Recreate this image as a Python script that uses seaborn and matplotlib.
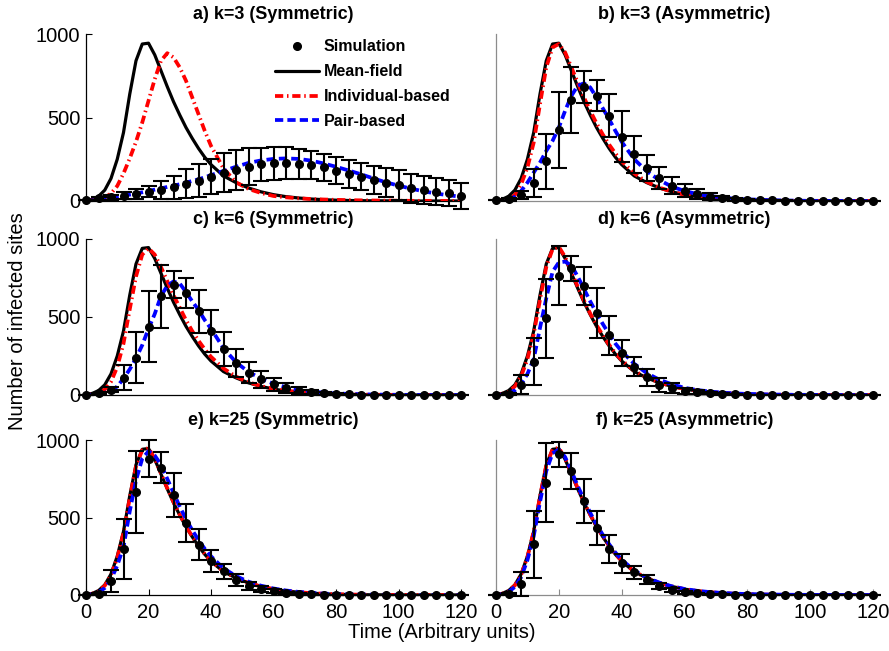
import matplotlib
matplotlib.use('Agg')
import matplotlib.pyplot as plt
from matplotlib.lines import Line2D
import seaborn as sns

# time grids
t_curve = list(range(0, 41, 2)) + list(range(44, 121, 4))
t_sim = list(range(0, 121, 4))

# mean-field curve (same in every panel)
mean_field = [3, 10, 28, 65, 135, 250, 410, 640, 840, 940, 945,
              875, 780, 685, 595, 515, 440, 375, 315, 262, 218,
              150, 110, 78, 55, 38, 26, 18, 12, 8, 5,
              3, 2, 1, 1, 0, 0, 0, 0, 0, 0]

# a) k=3 symmetric
ib_a = [1, 3, 8, 20, 45, 90, 165, 255, 355, 470, 600,
        730, 840, 885, 860, 800, 720, 620, 520, 420, 330,
        195, 112, 72, 48, 30, 22, 16, 12, 9, 7,
        5, 4, 3, 2, 2, 1, 1, 1, 0, 0]
pb_a = [0, 3, 7, 12, 18, 25, 32, 38, 45, 52, 60,
        68, 76, 84, 92, 100, 110, 120, 130, 142, 155,
        180, 205, 228, 243, 252, 255, 252, 242, 225, 205,
        183, 160, 135, 112, 92, 74, 58, 45, 34, 26]
sim_a = [5, 16, 22, 32, 42, 56, 66, 82, 102, 122, 146, 170, 186, 206, 220, 226,
         228, 222, 216, 202, 182, 162, 146, 126, 110, 96, 76, 66, 56, 46, 32]
err_a = [0, 8, 15, 23, 31, 34, 53, 70, 87, 98, 107, 117, 120, 110, 100, 98,
         96, 90, 83, 80, 80, 83, 83, 85, 85, 90, 87, 85, 80, 77, 77]

# b) k=3 asymmetric
ib_b = [1, 4, 12, 35, 100, 200, 350, 580, 800, 920, 940,
        890, 800, 710, 620, 540, 465, 398, 338, 285, 238,
        165, 115, 80, 56, 38, 26, 18, 12, 8, 5,
        3, 2, 1, 1, 0, 0, 0, 0, 0, 0]
pb_b = [0, 2, 8, 25, 60, 110, 170, 230, 300, 360, 440,
        540, 630, 690, 705, 680, 620, 555, 490, 420, 355,
        250, 178, 125, 86, 60, 42, 30, 21, 14, 10,
        7, 5, 3, 2, 1, 1, 0, 0, 0, 0]
sim_b = [3, 10, 37, 105, 237, 426, 605, 680, 629, 511, 385, 280, 199, 138, 91, 61,
         41, 26, 16, 10, 6, 4, 3, 2, 1, 1, 0, 0, 0, 0, 0]
err_b = [0, 10, 25, 84, 166, 228, 195, 96, 93, 129, 152, 112, 78, 68, 50, 40,
         30, 20, 12, 8, 5, 3, 2, 1, 0, 0, 0, 0, 0, 0, 0]

# c) k=6 symmetric
ib_c = [1, 4, 12, 35, 85, 180, 330, 550, 760, 900, 940,
        900, 820, 730, 640, 560, 480, 410, 348, 293, 245,
        170, 118, 82, 57, 40, 28, 19, 13, 9, 6,
        4, 3, 2, 1, 1, 0, 0, 0, 0, 0]
pb_c = [0, 2, 6, 14, 25, 55, 105, 165, 235, 320, 425,
        520, 635, 700, 728, 715, 660, 600, 545, 480, 425,
        300, 210, 148, 105, 72, 50, 34, 23, 15, 10,
        7, 5, 3, 2, 1, 1, 0, 0, 0, 0]
sim_c = [3, 10, 34, 112, 240, 437, 633, 707, 654, 537, 410, 293, 208, 144, 102, 70,
         45, 28, 17, 11, 6, 4, 3, 2, 1, 1, 0, 0, 0, 0, 0]
err_c = [0, 3, 16, 83, 162, 228, 203, 85, 98, 138, 133, 108, 90, 69, 55, 42,
         32, 21, 13, 8, 5, 3, 0, 0, 0, 0, 0, 0, 0, 0, 0]

# d) k=6 asymmetric
ib_d = [2, 7, 22, 55, 120, 230, 390, 610, 820, 935, 950,
        885, 790, 695, 605, 522, 448, 382, 322, 268, 224,
        155, 112, 80, 56, 39, 27, 19, 13, 8, 5,
        3, 2, 1, 1, 0, 0, 0, 0, 0, 0]
pb_d = [0, 3, 10, 30, 70, 135, 230, 430, 620, 790, 850,
        855, 830, 760, 680, 600, 525, 455, 390, 330, 280,
        200, 140, 98, 68, 46, 32, 22, 15, 10, 7,
        5, 3, 2, 1, 1, 0, 0, 0, 0, 0]
sim_d = [2, 6, 66, 213, 491, 766, 811, 698, 523, 383, 268, 181, 113, 66, 45, 28,
         17, 13, 6, 4, 3, 2, 1, 1, 0, 0, 0, 0, 0, 0, 0]
err_d = [0, 5, 60, 150, 252, 188, 80, 122, 160, 124, 85, 60, 53, 44, 32, 20,
         12, 8, 5, 3, 0, 0, 0, 0, 0, 0, 0, 0, 0, 0, 0]

# e) k=25 symmetric
ib_e = [2, 8, 25, 60, 128, 240, 400, 625, 830, 935, 948,
        880, 785, 690, 600, 518, 444, 378, 318, 265, 220,
        152, 110, 78, 55, 38, 26, 18, 12, 8, 5,
        3, 2, 1, 1, 0, 0, 0, 0, 0, 0]
pb_e = [1, 5, 18, 45, 100, 190, 310, 540, 740, 880, 928,
        900, 840, 750, 660, 570, 490, 418, 355, 298, 250,
        172, 122, 86, 60, 42, 29, 20, 14, 9, 6,
        4, 3, 2, 1, 1, 0, 0, 0, 0, 0]
sim_e = [2, 6, 92, 296, 665, 880, 822, 646, 464, 324, 221, 152, 97, 60, 39, 24,
         13, 6, 4, 3, 2, 1, 0, 0, 0, 0, 0, 0, 0, 0, 0]
err_e = [0, 5, 71, 193, 265, 118, 102, 140, 123, 99, 70, 50, 40, 27, 18, 12,
         8, 5, 3, 0, 0, 0, 0, 0, 0, 0, 0, 0, 0, 0, 0]

# f) k=25 asymmetric
ib_f = [2, 8, 26, 62, 130, 245, 410, 635, 835, 940, 950,
        880, 785, 690, 600, 518, 444, 378, 318, 265, 220,
        152, 110, 78, 55, 38, 26, 18, 12, 8, 5,
        3, 2, 1, 1, 0, 0, 0, 0, 0, 0]
pb_f = [1, 5, 20, 52, 115, 225, 380, 600, 800, 915, 938,
        890, 800, 705, 615, 530, 455, 388, 328, 274, 228,
        158, 112, 80, 56, 39, 27, 19, 13, 9, 6,
        4, 3, 2, 1, 1, 0, 0, 0, 0, 0]
sim_f = [2, 6, 71, 328, 725, 908, 800, 607, 431, 296, 204, 146, 97, 56, 32, 17,
         11, 6, 4, 3, 2, 1, 0, 0, 0, 0, 0, 0, 0, 0, 0]
err_f = [0, 4, 80, 217, 257, 80, 118, 143, 110, 89, 59, 44, 29, 20, 12, 8,
         5, 3, 0, 0, 0, 0, 0, 0, 0, 0, 0, 0, 0, 0, 0]

titles = ['a) k=3 (Symmetric)', 'b) k=3 (Asymmetric)',
          'c) k=6 (Symmetric)', 'd) k=6 (Asymmetric)',
          'e) k=25 (Symmetric)', 'f) k=25 (Asymmetric)']
ib_all = [ib_a, ib_b, ib_c, ib_d, ib_e, ib_f]
pb_all = [pb_a, pb_b, pb_c, pb_d, pb_e, pb_f]
sim_all = [sim_a, sim_b, sim_c, sim_d, sim_e, sim_f]
err_all = [err_a, err_b, err_c, err_d, err_e, err_f]

sns.set_theme(style='white')
plt.rcParams['font.family'] = ['Liberation Sans', 'DejaVu Sans']
plt.rcParams['text.color'] = 'black'
plt.rcParams['xtick.color'] = 'black'
plt.rcParams['ytick.color'] = 'black'

red_ls = (0, (2.2, 1.0, 0.4, 1.0))
blue_ls = (0, (2.2, 1.1))

W, H = 889, 651
fig = plt.figure(figsize=(W / 100, H / 100), dpi=100)
col_x = [(86, 461), (496, 873)]
row_y = [(34, 201), (239, 395), (440, 595)]

for i in range(6):
    r, c = divmod(i, 2)
    x0, x1 = col_x[c]
    y0, y1 = row_y[r]
    ax = fig.add_axes([x0 / W, 1 - y1 / H, (x1 - x0) / W, (y1 - y0) / H])

    eb = ax.errorbar(t_sim, sim_all[i], yerr=err_all[i], fmt='o', color='black',
                     mec='black', mfc='black', ms=5.5,
                     elinewidth=1.5, capsize=6, capthick=1.5, zorder=4)
    eb[0].set_clip_on(False)
    for a in list(eb[1]) + list(eb[2]):
        a.set_clip_on(False)

    sns.lineplot(x=t_curve, y=mean_field, color='black', lw=2.3, ax=ax, zorder=3)
    sns.lineplot(x=t_curve, y=ib_all[i], color='red', lw=2.7, linestyle=red_ls, ax=ax, zorder=3)
    sns.lineplot(x=t_curve, y=pb_all[i], color='blue', lw=2.7, linestyle=blue_ls, ax=ax, zorder=3)

    ax.set_xlim(0, 120)
    ax.set_ylim(0, 1000)
    sns.despine(ax=ax)
    sc = 'black' if c == 0 else '#8c8c8c'
    for s in ['left', 'bottom']:
        ax.spines[s].set_color(sc)
        ax.spines[s].set_linewidth(0.9)

    if c == 0:
        ax.set_yticks([0, 500, 1000])
        ax.tick_params(axis='y', direction='in', length=4, width=0.8, labelsize=14.5, pad=4, left=True)
    else:
        ax.set_yticks([])
    if r == 2:
        ax.set_xticks(range(0, 121, 20))
        ax.tick_params(axis='x', direction='in', length=4, width=0.8, labelsize=14.5, pad=6,
                       bottom=True, color=sc)
    else:
        ax.set_xticks([])

    ax.set_title(titles[i], fontsize=13, fontweight='bold', pad=11)

    if i == 0:
        handles = [Line2D([], [], ls='none', marker='o', color='black', ms=5.5),
                   Line2D([], [], color='black', lw=2.3),
                   Line2D([], [], color='red', lw=2.7, ls=red_ls),
                   Line2D([], [], color='blue', lw=2.7, ls=blue_ls)]
        labels = ['Simulation', 'Mean-field', 'Individual-based', 'Pair-based']
        ax.legend(handles, labels, loc='upper left', bbox_to_anchor=(0.474, 1.035),
                  frameon=False, prop={'weight': 'bold', 'size': 11.5},
                  handlelength=2.75, handletextpad=0.3, labelspacing=0.62, borderpad=0.2)

fig.text(18 / W, 1 - 321 / H, 'Number of infected sites', rotation=90,
         ha='center', va='center', fontsize=14.5)
fig.text(442 / W, 1 - 633 / H, 'Time (Arbitrary units)', ha='center', va='center', fontsize=14.5)

fig.savefig('out.png', dpi=100, facecolor='white')
